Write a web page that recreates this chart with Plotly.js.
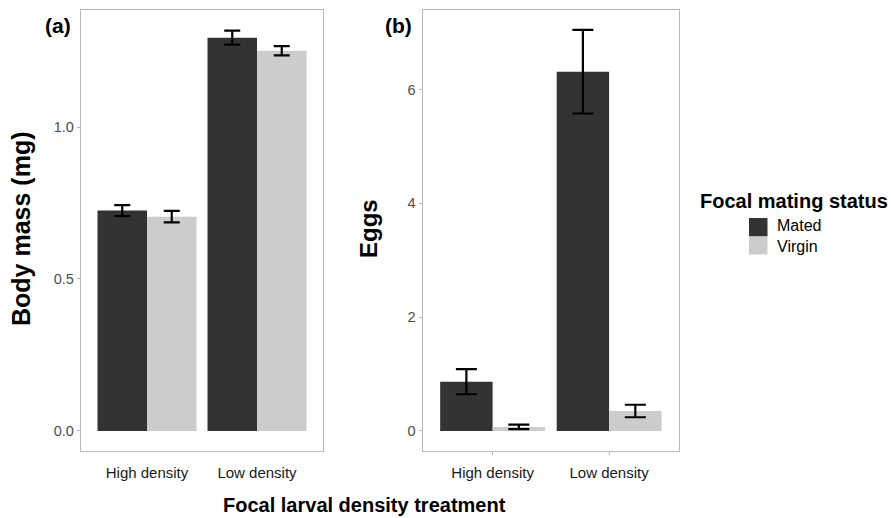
<!DOCTYPE html>
<html>
<head>
<meta charset="utf-8">
<script src="https://cdn.plot.ly/plotly-3.0.1.min.js"></script>
<style>html,body{margin:0;padding:0;background:#fff;}#chart{width:891px;height:518px;}</style>
</head>
<body>
<div id="chart"></div>
<script>
// ---- data ----
const categories = ["High density", "Low density"];
const seriesNames = ["Mated", "Virgin"];
const seriesColors = ["#333333", "#cccccc"];

const massMated = [0.725, 1.294];
const massMatedErr = [0.018, 0.023];
const massVirgin = [0.705, 1.251];
const massVirginErr = [0.019, 0.015];

const eggsMated = [0.865, 6.315];
const eggsMatedErr = [0.22, 0.735];
const eggsVirgin = [0.07, 0.35];
const eggsVirginErr = [0.04, 0.11];

const massTicks = [0, 0.5, 1.0];
const massTickText = ["0.0", "0.5", "1.0"];
const eggsTicks = [0, 2, 4, 6];
const eggsTickText = ["0", "2", "4", "6"];

// ---- helpers ----
const W = 891, H = 518;
const px = x => x / W;
const py = y => 1 - y / H;

function barTrace(y, err, idx, xa, ya, capw) {
  return {
    type: "bar",
    x: categories, y: y,
    name: seriesNames[idx],
    xaxis: xa, yaxis: ya,
    marker: {color: seriesColors[idx], line: {width: 0}},
    error_y: {type: "data", array: err, visible: true, color: "#000000", thickness: 2.2, width: capw},
    showlegend: false,
    hoverinfo: "skip"
  };
}

const data = [
  barTrace(massMated, massMatedErr, 0, "x", "y", 8),
  barTrace(massVirgin, massVirginErr, 1, "x", "y", 8),
  barTrace(eggsMated, eggsMatedErr, 0, "x2", "y2", 10.5),
  barTrace(eggsVirgin, eggsVirginErr, 1, "x2", "y2", 10.5)
];

const lineCol = "#b8b8b8";
const tickFont = {family: "Liberation Sans, Arial, sans-serif", size: 14.5, color: "#4d4d4d"};
const xTickFont = {family: "Liberation Sans, Arial, sans-serif", size: 15, color: "#1a1a1a"};

function xAxis(domain, showTicks) {
  return {
    domain: domain, type: "category", range: [-0.6, 1.6],
    showline: true, mirror: true, linecolor: lineCol, linewidth: 1.2,
    showgrid: false, zeroline: false,
    ticks: showTicks ? "outside" : "", ticklen: 3, tickcolor: lineCol, tickwidth: 1,
    ticklabelstandoff: showTicks ? 5 : 8,
    tickfont: xTickFont, fixedrange: true
  };
}
function yAxis(domain, range, tv, tt, anchor) {
  return {
    domain: domain, range: range, anchor: anchor,
    showline: true, mirror: true, linecolor: lineCol, linewidth: 1.2,
    showgrid: false, zeroline: false,
    ticks: "outside", ticklen: 3, tickcolor: lineCol, tickwidth: 1,
    tickvals: tv, ticktext: tt, tickfont: tickFont, fixedrange: true
  };
}

const yDom = [py(451), py(10)];

const ann = (x, y, text, size, extra) => Object.assign({
  xref: "paper", yref: "paper", x: px(x), y: py(y), text: text, showarrow: false,
  xanchor: "center", yanchor: "middle",
  font: {family: "Liberation Sans, Arial, sans-serif", size: size, color: "#000000"}
}, extra || {});

const layout = {
  width: W, height: H,
  margin: {l: 0, r: 0, t: 0, b: 0},
  paper_bgcolor: "#ffffff", plot_bgcolor: "#ffffff",
  bargap: 0.1, bargroupgap: 0, barmode: "group",
  showlegend: false,
  xaxis: Object.assign(xAxis([px(81), px(323)], false), {anchor: "y"}),
  yaxis: yAxis(yDom, [-0.066, 1.385], massTicks, massTickText, "x"),
  xaxis2: Object.assign(xAxis([px(422.7), px(679)], true), {anchor: "y2"}),
  yaxis2: yAxis(yDom, [-0.353, 7.40], eggsTicks, eggsTickText, "x2"),
  annotations: [
    ann(58, 25, "<b>(a)</b>", 21),
    ann(398, 25, "<b>(b)</b>", 21),
    ann(21, 229, "<b>Body mass (mg)</b>", 25, {textangle: -90}),
    ann(368, 229, "<b>Eggs</b>", 24, {textangle: -90}),
    ann(364, 505, "<b>Focal larval density treatment</b>", 20),
    ann(794, 201, "<b>Focal mating status</b>", 20),
    ann(775, 236.5, seriesNames.join("<br>"), 16, {xanchor: "left", align: "left"})
  ],
  shapes: [
    {type: "rect", xref: "paper", yref: "paper", x0: px(749), x1: px(767.5), y0: py(236.5), y1: py(218),
     fillcolor: seriesColors[0], line: {width: 0}},
    {type: "rect", xref: "paper", yref: "paper", x0: px(749), x1: px(767.5), y0: py(254.5), y1: py(236.5),
     fillcolor: seriesColors[1], line: {width: 0}}
  ]
};

Plotly.newPlot("chart", data, layout, {staticPlot: true, displayModeBar: false});
</script>
</body>
</html>
